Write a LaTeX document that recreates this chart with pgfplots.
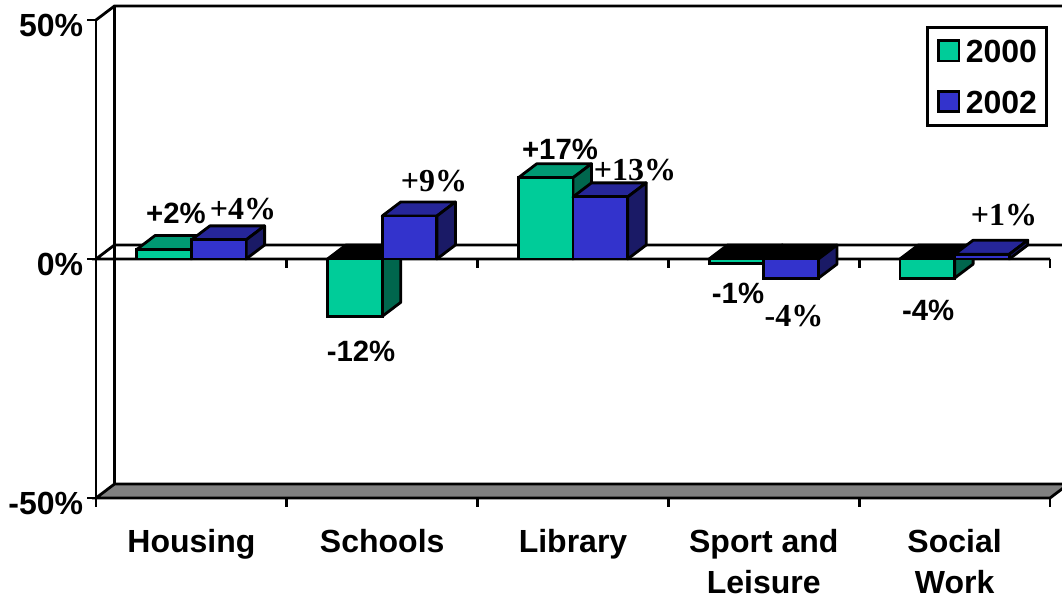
\documentclass[border=0pt]{standalone}
\usepackage{fontspec}
\setmainfont{Liberation Sans}
\newfontfamily\serifbold{Liberation Serif}[BoldFont={Liberation Serif Bold}]
\usepackage{pgfplots}
\usepackage{pgfplotstable}
\pgfplotsset{compat=1.18}

\definecolor{greenfront}{HTML}{00CC99}
\definecolor{greentop}{HTML}{009973}
\definecolor{greenside}{HTML}{00664D}
\definecolor{bluefront}{HTML}{3333CC}
\definecolor{bluetop}{HTML}{262699}
\definecolor{blueside}{HTML}{1A1A66}
\definecolor{floorgray}{HTML}{808080}

% Change against the city average, in percent
\pgfplotstableread{
x   idx y2000 y2002
0.5 0   2     4
1.5 1   -12   9
2.5 2   17    13
3.5 3   -1    -4
4.5 4   -4    1
}\bardata

\newcommand{\bfa}{\bfseries\fontsize{22}{26}\selectfont}
\newcommand{\bfb}{\serifbold\bfseries\fontsize{24}{28}\selectfont}

% Top and side faces of one box: left x, value, top colour, side colour
\newcommand{\depthfaces}[4]{%
  \pgfmathsetmacro\xa{#1}%
  \pgfmathsetmacro\xb{#1+0.2867}%
  \pgfmathsetmacro\xc{#1+0.097}%
  \pgfmathsetmacro\xd{#1+0.2867+0.097}%
  \pgfmathsetmacro\yt{max(#2,0)}%
  \pgfmathsetmacro\yb{min(#2,0)}%
  \pgfmathsetmacro\ytt{\yt+2.93}%
  \pgfmathsetmacro\ybb{\yb+2.93}%
  \ifdim #2pt<0pt \def\topcol{black}\else\def\topcol{#3}\fi
  \edef\facecmd{\noexpand\addplot[boxface,fill=\topcol] coordinates
    {(\xa,\yt) (\xb,\yt) (\xd,\ytt) (\xc,\ytt)} -- cycle;}\facecmd
  \edef\facecmd{\noexpand\addplot[boxface,fill=#4] coordinates
    {(\xb,\yt) (\xd,\ytt) (\xd,\ybb) (\xb,\yb)} -- cycle;}\facecmd
}

\begin{document}
\begin{tikzpicture}[line join=miter]
\useasboundingbox (-72pt,-77.25pt) rectangle (724.5pt,373.5pt);
\clip (-72pt,-77.25pt) rectangle (724.5pt,373.5pt);
\begin{axis}[
  scale only axis,
  width=715.5pt, height=358.5pt,
  xmin=0, xmax=5, ymin=-50, ymax=50,
  clip=false,
  axis lines=left,
  axis line style={-, line width=2.1pt},
  tick style={black, line width=2.1pt},
  major tick length=6.5pt,
  tick align=outside,
  xtick={0,1,2,3,4,5},
  x tick label as interval,
  xticklabels={Housing,Schools,Library,{Sport and\\Leisure},{Social\\Work}},
  xticklabel style={align=center, font=\bfseries\fontsize{24}{31}\selectfont, yshift=-13.5pt},
  ytick={-50,0,50},
  yticklabels={-50\%,0\%,50\%},
  yticklabel style={font=\bfseries\fontsize{24}{28}\selectfont, yshift=-4pt, inner sep=0pt, anchor=east, xshift=-3pt},
  boxface/.style={forget plot, draw=black, line width=2.1pt, line join=round},
  wall/.style={forget plot, draw=black, line width=2.1pt},
  legend style={
    at={(0.9976,0.988)}, anchor=north east,
    draw=black, line width=2.1pt,
    font=\bfseries\fontsize{24}{28}\selectfont,
    inner xsep=7pt, inner ysep=6pt,
    row sep=14.5pt, column sep=0pt,
    legend cell align=left,
    nodes={inner sep=0pt, text height=22pt},
  },
]
% floor and the lines of the side and back walls
\addplot[wall, fill=floorgray] coordinates {(0,-50) (0.097,-47.07) (5.097,-47.07) (5,-50)} -- cycle;
\addplot[wall] coordinates {(0,50) (0.097,52.93) (5.097,52.93)};
\addplot[wall] coordinates {(0.097,-47.07) (0.097,52.93)};
% plane of the zero line, with its ticks
\addplot[wall] coordinates {(5,0) (0,0) (0.097,2.93) (5.097,2.93)};
\pgfplotsforeachungrouped \t in {0,1,2,3,4,5}{%
  \edef\tickcmd{\noexpand\addplot[wall] coordinates {(\t,0) (\t,-1.9)};}\tickcmd
}

% 2000
\pgfplotsforeachungrouped \i in {0,1,2,3,4}{%
  \pgfplotstablegetelem{\i}{y2000}\of\bardata
  \let\val\pgfplotsretval
  \pgfmathsetmacro\lx{\i+0.2133}%
  \depthfaces{\lx}{\val}{greentop}{greenside}%
}
\addplot[ybar, bar width=41pt, bar shift=-20.5pt, fill=greenfront, draw=black, line width=2.1pt,
  legend image code/.code={\draw[fill=greenfront, draw=black, line width=2.1pt] (0pt,-7.7pt) rectangle (15.5pt,7.7pt);}]
  table[x=x, y=y2000] {\bardata};
\addlegendentry{\hspace{4pt}\raisebox{1.5pt}{2000}}

% 2002
\pgfplotsforeachungrouped \i in {0,1,2,3,4}{%
  \pgfplotstablegetelem{\i}{y2002}\of\bardata
  \let\val\pgfplotsretval
  \pgfmathsetmacro\lx{\i+0.5}%
  \depthfaces{\lx}{\val}{bluetop}{blueside}%
}
\addplot[ybar, bar width=41pt, bar shift=20.5pt, fill=bluefront, draw=black, line width=2.1pt,
  legend image code/.code={\draw[fill=bluefront, draw=black, line width=2.1pt] (0pt,-7.7pt) rectangle (15.5pt,7.7pt);}]
  table[x=x, y=y2002] {\bardata};
\addlegendentry{\hspace{4pt}\raisebox{1.5pt}{2002}}

% value labels
\node[font=\bfa, inner sep=0pt] at (axis cs:0.419,9.5) {+2\%};
\node[font=\bfb, inner sep=0pt] at (axis cs:0.770,10.5) {+4\%};
\node[font=\bfb, inner sep=0pt] at (axis cs:1.771,16.4) {+9\%};
\node[font=\bfa, inner sep=0pt] at (axis cs:1.389,-19.4) {-12\%};
\node[font=\bfa, inner sep=0pt] at (axis cs:2.432,22.9) {+17\%};
\node[font=\bfb, inner sep=0pt] at (axis cs:2.825,18.7) {+13\%};
\node[font=\bfa, inner sep=0pt] at (axis cs:3.365,-7.3) {-1\%};
\node[font=\bfb, inner sep=0pt] at (axis cs:3.658,-11.9) {-4\%};
\node[font=\bfa, inner sep=0pt] at (axis cs:4.361,-10.8) {-4\%};
\node[font=\bfb, inner sep=0pt] at (axis cs:4.759,9.1) {+1\%};
\end{axis}
\end{tikzpicture}
\end{document}
